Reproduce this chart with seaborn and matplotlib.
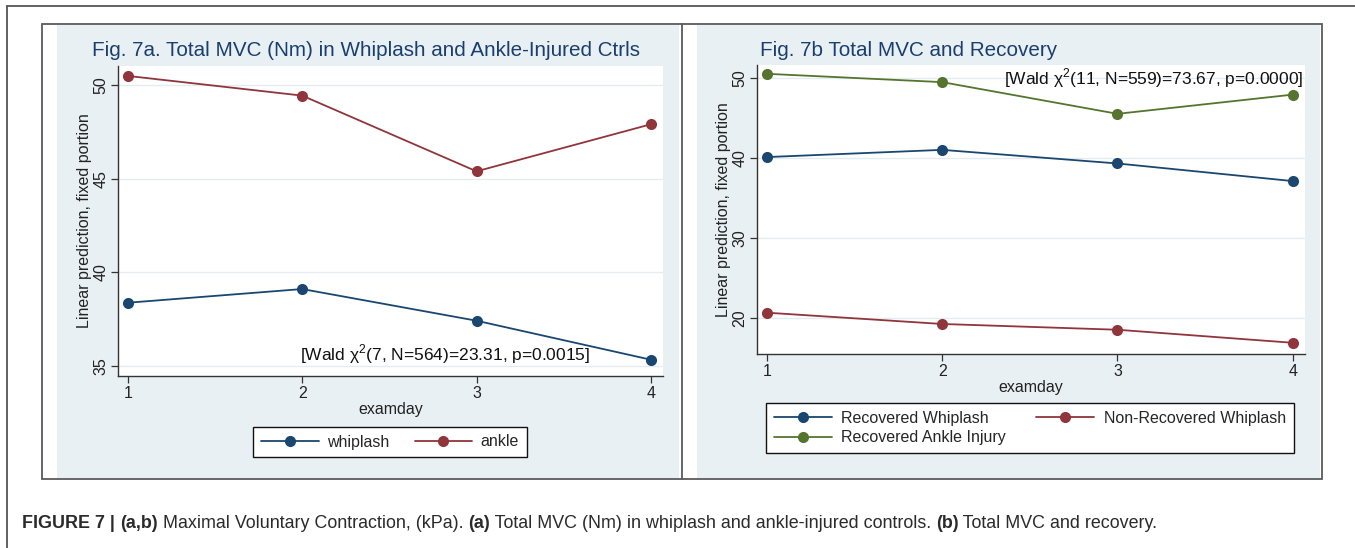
import matplotlib
matplotlib.use("Agg")
import matplotlib.pyplot as plt
import seaborn as sns
import pandas as pd
from matplotlib.patches import Rectangle
from matplotlib.lines import Line2D

# ---------------- data ----------------
examday = [1, 2, 3, 4]
whiplash = [38.38, 39.11, 37.42, 35.34]
ankle = [50.48, 49.43, 45.39, 47.90]

recovered_whiplash = [40.1, 41.0, 39.3, 37.1]
nonrecovered_whiplash = [20.66, 19.25, 18.53, 16.90]
recovered_ankle = [50.5, 49.46, 45.5, 47.9]

left_yticks = [35, 40, 45, 50]
right_yticks = [20, 30, 40, 50]

title_a = "Fig. 7a. Total MVC (Nm) in Whiplash and Ankle-Injured Ctrls"
title_b = "Fig. 7b Total MVC and Recovery"
note_a = "[Wald χ$^{\\mathrm{2}}$(7, N=564)=23.31, p=0.0015]"
note_b = "[Wald χ$^{\\mathrm{2}}$(11, N=559)=73.67, p=0.0000]"
ylab = "Linear prediction, fixed portion"
xlab = "examday"

NAVY = "#1a476f"
MAROON = "#90353b"
GREEN = "#55752f"
BG = "#e9f0f3"
TITLE_C = "#1a3f6e"

sns.set_theme(style="white")
plt.rcParams["font.family"] = ["Liberation Sans", "DejaVu Sans"]
plt.rcParams["mathtext.fontset"] = "custom"
plt.rcParams["mathtext.rm"] = "Liberation Sans"

W, H = 1355, 548
fig = plt.figure(figsize=(W / 100, H / 100), dpi=100)
fig.patch.set_facecolor("white")


def fx(px):
    return px / W


def fy(py):
    return 1 - py / H


def rect(x0, y0, x1, y1, **kw):
    fig.patches.append(Rectangle((fx(x0), fy(y1)), fx(x1) - fx(x0), fy(y0) - fy(y1),
                                 transform=fig.transFigure, **kw))


def line(xs, ys, **kw):
    fig.lines.append(Line2D([fx(x) for x in xs], [fy(y) for y in ys],
                            transform=fig.transFigure, **kw))


# panel backgrounds
rect(57, 25, 679, 478, facecolor=BG, edgecolor="none", zorder=-2)
rect(697, 25, 1320, 478, facecolor=BG, edgecolor="none", zorder=-2)
# panel frame
rect(42, 24, 1322, 479, facecolor="none", edgecolor="#5a5a5a", linewidth=1.3, zorder=-1)
line([682, 682], [24, 479], color="#5a5a5a", linewidth=1.3, zorder=-1)
# outer article frame
line([7, 7], [548, 6], color="#555555", linewidth=1.3, zorder=-1)
line([7, 1355], [6, 6], color="#555555", linewidth=1.3, zorder=-1)


def ax_at(x0, y0, x1, y1):
    ax = fig.add_axes([fx(x0), fy(y1), fx(x1) - fx(x0), fy(y0) - fy(y1)])
    ax.set_zorder(2)
    return ax


def style_ax(ax, yticks, ylim):
    ax.set_facecolor("white")
    ax.set_xlim(0.943, 4.07)
    ax.set_ylim(*ylim)
    ax.set_xticks(examday)
    ax.set_yticks(yticks)
    ax.set_yticklabels([str(t) for t in yticks], rotation=90, va="center")
    for t in yticks:
        ax.axhline(t, color="#e4ecf0", linewidth=1.0, zorder=0)
    for s in ["top", "right"]:
        ax.spines[s].set_visible(False)
    for s in ["left", "bottom"]:
        ax.spines[s].set_color("#333333")
        ax.spines[s].set_linewidth(1.0)
    ax.tick_params(axis="both", which="major", direction="out", length=5, width=0.9,
                   color="#333333", labelsize=11.5, labelcolor="#222222",
                   left=True, bottom=True, pad=2)
    ax.set_xlabel(xlab, fontsize=11.5, color="#222222", labelpad=1)
    ax.set_ylabel(ylab, fontsize=11.5, color="#222222", labelpad=1)
    ax.grid(False)


# ---------------- panel a ----------------
dfa = pd.DataFrame({
    "examday": examday * 2,
    "value": whiplash + ankle,
    "group": ["whiplash"] * 4 + ["ankle"] * 4,
})
axa = ax_at(118, 66, 663, 376)
sns.lineplot(data=dfa, x="examday", y="value", hue="group",
             palette={"whiplash": NAVY, "ankle": MAROON},
             marker="o", markersize=8, markeredgewidth=0, linewidth=1.3,
             ax=axa, legend=False, zorder=3)
style_ax(axa, left_yticks, (34.47, 51.01))
axa.text(3.65, 35.0, note_a, ha="right", va="bottom", fontsize=12.5, color="#111111")

fig.text(fx(92), fy(50), title_a, fontsize=14.9, color=TITLE_C, ha="left", va="center")

handles_a = [Line2D([], [], color=NAVY, marker="o", markersize=8, markeredgewidth=0, linewidth=1.3),
             Line2D([], [], color=MAROON, marker="o", markersize=8, markeredgewidth=0, linewidth=1.3)]
leg_a = fig.legend(handles_a, ["whiplash", "ankle"], loc="center",
                   bbox_to_anchor=(fx(390), fy(442)), ncol=2, frameon=True, fancybox=False,
                   edgecolor="#111111", facecolor="white", framealpha=1, fontsize=11.5,
                   handlelength=3.6, columnspacing=1.6, borderpad=0.5, handletextpad=0.5)
leg_a.get_frame().set_linewidth(1.0)

# ---------------- panel b ----------------
groups_b = ["Recovered Whiplash", "Non-Recovered Whiplash", "Recovered Ankle Injury"]
dfb = pd.DataFrame({
    "examday": examday * 3,
    "value": recovered_whiplash + nonrecovered_whiplash + recovered_ankle,
    "group": [groups_b[0]] * 4 + [groups_b[1]] * 4 + [groups_b[2]] * 4,
})
pal_b = {groups_b[0]: NAVY, groups_b[1]: MAROON, groups_b[2]: GREEN}
axb = ax_at(757, 65, 1305, 354)
sns.lineplot(data=dfb, x="examday", y="value", hue="group", palette=pal_b,
             marker="o", markersize=8, markeredgewidth=0, linewidth=1.3,
             ax=axb, legend=False, zorder=3)
style_ax(axb, right_yticks, (15.5, 51.6))
axb.text(4.06, 50.0, note_b, ha="right", va="center", fontsize=12.5, color="#111111")

fig.text(fx(760), fy(50), title_b, fontsize=14.9, color=TITLE_C, ha="left", va="center")

handles_b = [Line2D([], [], color=pal_b[g], marker="o", markersize=8, markeredgewidth=0, linewidth=1.3)
             for g in groups_b]
leg_b = fig.legend([handles_b[0], handles_b[2], handles_b[1]],
                   [groups_b[0], groups_b[2], groups_b[1]], loc="center",
                   bbox_to_anchor=(fx(1030), fy(428)), ncol=2, frameon=True, fancybox=False,
                   edgecolor="#111111", facecolor="white", framealpha=1, fontsize=11.5,
                   handlelength=3.6, columnspacing=1.9, borderpad=0.5, handletextpad=0.6,
                   labelspacing=0.3)
leg_b.get_frame().set_linewidth(1.0)

# ---------------- caption ----------------
cap_font = ["Liberation Sans Narrow", "Liberation Sans", "DejaVu Sans"]
parts = [("FIGURE 7 | ", "bold"), ("(a,b)", "bold"),
         (" Maximal Voluntary Contraction, (kPa). ", "normal"), ("(a)", "bold"),
         (" Total MVC (Nm) in whiplash and ankle-injured controls. ", "normal"),
         ("(b)", "bold"), (" Total MVC and recovery.", "normal")]
fig.canvas.draw()
renderer = fig.canvas.get_renderer()
xpos = fx(22)
for txt, wt in parts:
    t = fig.text(xpos, fy(523), txt, fontsize=12.9, fontweight=wt, color="#2b2b2b",
                 family=cap_font, ha="left", va="center")
    bb = t.get_window_extent(renderer=renderer)
    xpos += bb.width / W

fig.savefig("out.png", dpi=100, facecolor="white")
